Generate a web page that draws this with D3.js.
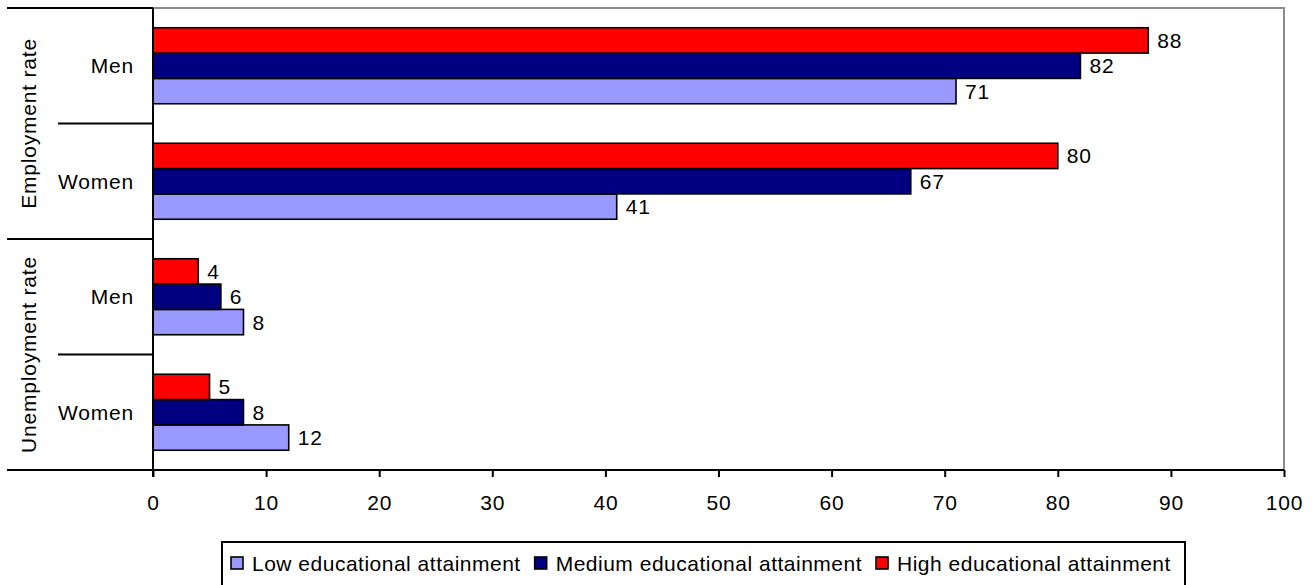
<!DOCTYPE html>
<html><head><meta charset="utf-8">
<script src="https://cdn.jsdelivr.net/npm/d3@7"></script>
<style>
html,body{margin:0;padding:0;background:#fff;}
svg{display:block;font-family:"Liberation Sans",Arial,sans-serif;}
svg text{letter-spacing:0.8px;}
svg .legend text{letter-spacing:0.5px;}
</style></head>
<body>
<svg id="chart" width="1312" height="585"></svg>
<script>
const groups = ["Employment rate", "Unemployment rate"];
const categories = ["Men", "Women", "Men", "Women"];
const categoryGroup = [0, 0, 1, 1];
const seriesNames = ["Low educational attainment", "Medium educational attainment", "High educational attainment"];
const lowValues = [71, 41, 8, 12];
const mediumValues = [82, 67, 6, 8];
const highValues = [88, 80, 4, 5];
const xTicks = [0, 10, 20, 30, 40, 50, 60, 70, 80, 90, 100];

const colors = {low: "#9999FF", medium: "#000080", high: "#FF0000"};
const seriesKeys = ["low", "medium", "high"];
const seriesVals = {low: lowValues, medium: mediumValues, high: highValues};

const svg = d3.select("#chart");
const L = 153, R = 1284, T = 8, B = 470;
const FS = 21;

const x = d3.scaleLinear().domain([0, 100]).range([L, R]);
const y0 = d3.scaleBand().domain(d3.range(categories.length)).range([T, B]).padding(0);
const y1 = d3.scaleBand().domain(["high", "medium", "low"]).range([0, y0.bandwidth()]).paddingInner(0).paddingOuter(0.78);

// plot border (top/right gray)
svg.append("path")
  .attr("d", `M${L},${T}H${R}V${B}`)
  .attr("fill", "none").attr("stroke", "#8c8c8c").attr("stroke-width", 2);

// bars
const rows = [];
categories.forEach((c, i) => {
  seriesKeys.forEach(k => rows.push({i, k, v: seriesVals[k][i]}));
});
svg.append("g").selectAll("rect").data(rows).join("rect")
  .attr("x", x(0))
  .attr("y", d => y0(d.i) + y1(d.k))
  .attr("width", d => x(d.v) - x(0))
  .attr("height", y1.bandwidth())
  .attr("fill", d => colors[d.k])
  .attr("stroke", "#000").attr("stroke-width", 1.6);

// value labels
svg.append("g").selectAll("text").data(rows).join("text")
  .attr("x", d => x(d.v) + 9)
  .attr("y", d => y0(d.i) + y1(d.k) + y1.bandwidth() / 2)
  .attr("dy", "0.36em")
  .attr("font-size", FS)
  .attr("fill", "#000")
  .text(d => d.v);

// x axis
const xAxis = d3.axisBottom(x).tickValues(xTicks).tickSize(7).tickPadding(18).tickFormat(d3.format("d"));
const gx = svg.append("g").attr("transform", `translate(0,${B})`).call(xAxis);
gx.select(".domain").remove();
gx.selectAll(".tick line").attr("stroke", "#000").attr("stroke-width", 2);
gx.selectAll(".tick text").attr("font-size", FS).attr("font-family", "Liberation Sans, Arial, sans-serif").attr("fill", "#000");
svg.append("line").attr("x1", 7).attr("x2", R).attr("y1", B).attr("y2", B).attr("stroke", "#000").attr("stroke-width", 2);

// y axis line
svg.append("line").attr("x1", L).attr("x2", L).attr("y1", T).attr("y2", B + 7).attr("stroke", "#000").attr("stroke-width", 2);

// separators
categories.forEach((c, i) => {
  const yy = y0(i);
  const isGroupStart = i === 0 || categoryGroup[i] !== categoryGroup[i - 1];
  svg.append("line")
    .attr("x1", isGroupStart ? 7 : 58).attr("x2", L)
    .attr("y1", yy).attr("y2", yy)
    .attr("stroke", "#000").attr("stroke-width", 2);
});

// category labels
svg.append("g").selectAll("text").data(categories).join("text")
  .attr("x", 134)
  .attr("y", (d, i) => y0(i) + y0.bandwidth() / 2)
  .attr("dy", "0.36em")
  .attr("text-anchor", "end")
  .attr("font-size", FS)
  .text(d => d);

// group labels
groups.forEach((g, gi) => {
  const idx = categoryGroup.map((v, i) => v === gi ? i : -1).filter(i => i >= 0);
  const top = y0(idx[0]), bot = y0(idx[idx.length - 1]) + y0.bandwidth();
  const cy = (top + bot) / 2;
  svg.append("text")
    .attr("transform", `translate(28.5,${cy}) rotate(-90)`)
    .attr("text-anchor", "middle")
    .attr("dy", "0.36em")
    .attr("font-size", FS)
    .text(g);
});

// legend
const lg = svg.append("g").attr("class", "legend");
lg.append("rect").attr("x", 222).attr("y", 542).attr("width", 963).attr("height", 60)
  .attr("fill", "#fff").attr("stroke", "#000").attr("stroke-width", 2);
let lx = 231;
seriesKeys.forEach((k, i) => {
  lg.append("rect").attr("x", lx).attr("y", 557).attr("width", 12).attr("height", 12)
    .attr("fill", colors[k]).attr("stroke", "#000").attr("stroke-width", 1.6);
  const t = lg.append("text").attr("x", lx + 21).attr("y", 563).attr("dy", "0.36em")
    .attr("font-size", FS).text(seriesNames[i]);
  lx += 21 + t.node().getComputedTextLength() + 14;
});
</script>
</body></html>
